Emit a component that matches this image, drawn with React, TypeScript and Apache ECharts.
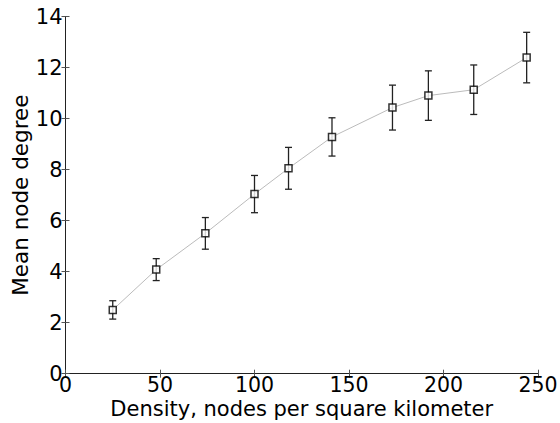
import React, { useEffect, useRef } from "react";
import * as echarts from "echarts";

const densities = [25, 48, 74, 100, 118, 141, 173, 192, 216, 244];
const meanDegree = [2.5, 4.08, 5.5, 7.04, 8.05, 9.28, 10.43, 10.9, 11.13, 12.39];
const errors = [0.36, 0.43, 0.62, 0.73, 0.82, 0.75, 0.88, 0.97, 0.97, 0.99];
const xTicks = [0, 50, 100, 150, 200, 250];
const yTicks = [0, 2, 4, 6, 8, 10, 12, 14];

const FONT = "DejaVu Sans";

export default function App() {
  const ref = useRef<HTMLDivElement>(null);
  useEffect(() => {
    if (!ref.current) return;
    const chart = echarts.init(ref.current, undefined, { renderer: "svg" });
    const points = densities.map((x, i) => [x, meanDegree[i]]);
    const errData = densities.map((x, i) => [x, meanDegree[i] - errors[i], meanDegree[i] + errors[i]]);
    const frame = { show: true, lineStyle: { color: "#222", width: 1 } };
    const tick = { show: true, inside: true, length: 4, lineStyle: { color: "#555", width: 1 } };
    chart.setOption({
      animation: false,
      backgroundColor: "#fff",
      grid: {
        left: 65.5,
        right: 22,
        top: 16.5,
        bottom: 49.3,
        containLabel: false,
        outerBoundsMode: "none",
      },
      xAxis: [
        {
          type: "value",
          min: xTicks[0],
          max: xTicks[xTicks.length - 1],
          interval: 50,
          name: "Density, nodes per square kilometer",
          nameLocation: "middle",
          nameGap: 25,
          nameMoveOverlap: false,
          nameTextStyle: { fontFamily: FONT, fontSize: 21, lineHeight: 21, color: "#000" },
          axisLine: frame,
          axisTick: tick,
          splitLine: { show: false },
          axisLabel: { fontFamily: FONT, fontSize: 20.5, lineHeight: 19, color: "#000", margin: 2 },
        },
        {
          type: "value",
          position: "top",
          min: 0,
          max: 250,
          interval: 50,
          axisLine: frame,
          axisTick: tick,
          axisLabel: { show: false },
          splitLine: { show: false },
        },
      ],
      yAxis: [
        {
          type: "value",
          min: yTicks[0],
          max: yTicks[yTicks.length - 1],
          interval: 2,
          name: "Mean node degree",
          nameLocation: "middle",
          nameGap: 34,
          nameMoveOverlap: false,
          nameTextStyle: { fontFamily: FONT, fontSize: 21.5, color: "#000" },
          axisLine: frame,
          axisTick: tick,
          splitLine: { show: false },
          axisLabel: { fontFamily: FONT, fontSize: 21, color: "#000", margin: 3 },
        },
        {
          type: "value",
          position: "right",
          min: 0,
          max: 14,
          interval: 2,
          axisLine: frame,
          axisTick: tick,
          axisLabel: { show: false },
          splitLine: { show: false },
        },
      ],
      series: [
        {
          type: "line",
          data: points,
          symbol: "none",
          lineStyle: { color: "#bbbbbb", width: 1 },
          z: 1,
        },
        {
          type: "custom",
          data: errData,
          z: 2,
          renderItem: (params: any, api: any) => {
            const x = api.value(0);
            const lo = api.coord([x, api.value(1)]);
            const hi = api.coord([x, api.value(2)]);
            const cap = 3.5;
            const style = { stroke: "#222", lineWidth: 1.3, fill: "none" };
            return {
              type: "group",
              children: [
                { type: "line", shape: { x1: lo[0], y1: lo[1], x2: hi[0], y2: hi[1] }, style },
                { type: "line", shape: { x1: lo[0] - cap, y1: lo[1], x2: lo[0] + cap, y2: lo[1] }, style },
                { type: "line", shape: { x1: hi[0] - cap, y1: hi[1], x2: hi[0] + cap, y2: hi[1] }, style },
              ],
            };
          },
        },
        {
          type: "scatter",
          data: points,
          symbol: "rect",
          symbolSize: 7,
          itemStyle: { color: "#fff", borderColor: "#000", borderWidth: 1.5 },
          z: 3,
        },
      ],
    });
    return () => chart.dispose();
  }, []);
  return <div ref={ref} style={{ width: 560, height: 423, position: "absolute", left: 0, top: 0 }} />;
}
